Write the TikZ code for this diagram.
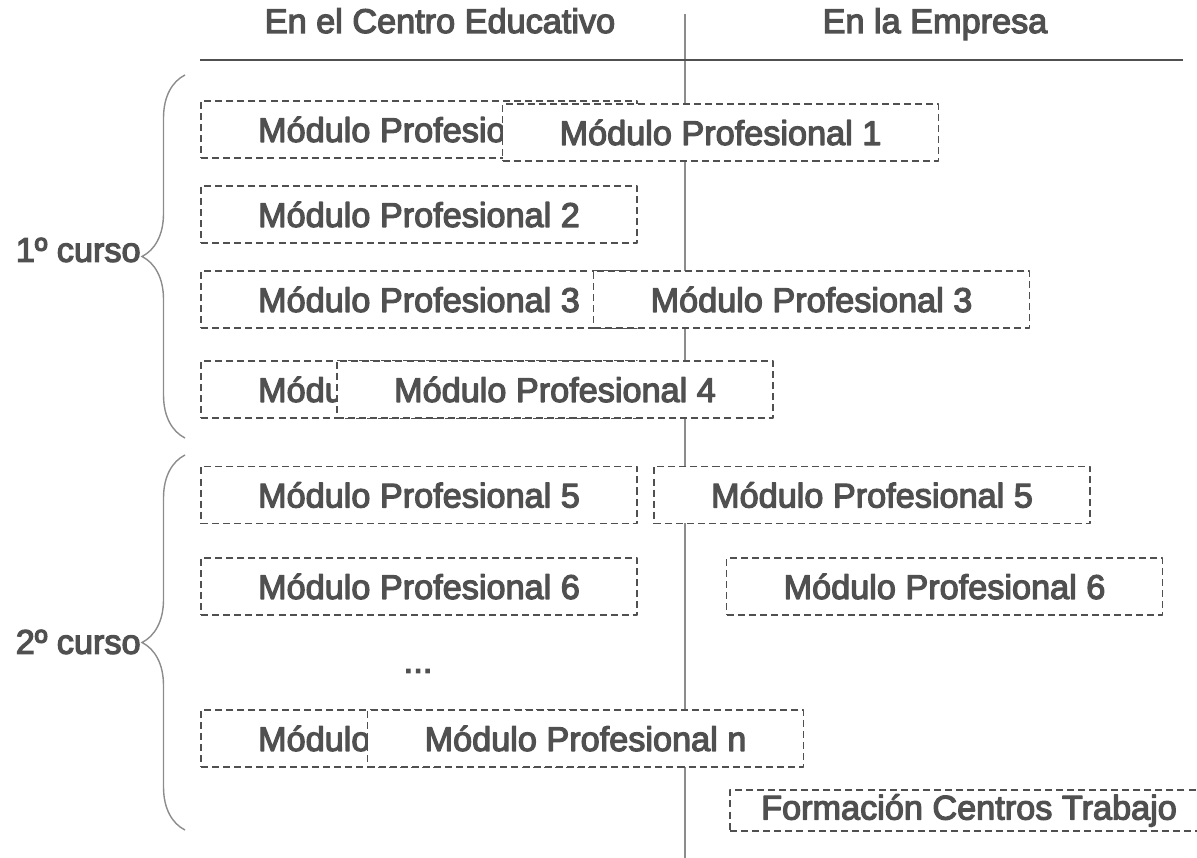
\documentclass[tikz,border=0pt]{standalone}
\usepackage{fontspec}
\setmainfont{Liberation Sans}
\usetikzlibrary{decorations.pathreplacing}
\definecolor{txtgray}{HTML}{505050}
\definecolor{linegray}{HTML}{8C8C8C}
\newcommand\trazo[1]{\special{pdf:literal direct 2 Tr 0.7 w}#1\special{pdf:literal direct 0 Tr}}

\begin{document}
\begin{tikzpicture}[x=0.02cm,y=-0.02cm,font=\fontsize{19.5}{23}\selectfont,text=txtgray,
        modulo/.style={draw=txtgray,dash pattern=on 4pt off 2.3pt,line width=0.95pt,line join=round,fill=white,
                       minimum width=8.72cm,minimum height=1.14cm,inner sep=0pt},
        llave/.style={draw=linegray,line width=0.8pt,decorate,decoration={brace,amplitude=0.86cm}}]
        \useasboundingbox (0,0) rectangle (1197,858);
        \node[anchor=base] (centro) at (440,33) {\trazo{En el Centro Educativo}};
        \node[anchor=base] (empresa) at (935,33) {\trazo{En la Empresa}};
        \coordinate (vtop) at (685,14);
        \coordinate (vbot) at (685,858);
        \coordinate (hizq) at (200,60);
        \coordinate (hder) at (1183,60);
        \draw[linegray,line width=0.8pt] (vtop) -- (vbot);
        \draw[txtgray,line width=1.1pt] (hizq) -- (hder);

        \node[modulo] (c1) at (419,129.5) {\trazo{Módulo Profesional 1}};
        \node[modulo] (c2) at (419,214.5) {\trazo{Módulo Profesional 2}};
        \node[modulo] (c3) at (419,299.5) {\trazo{Módulo Profesional 3}};
        \node[modulo] (c4) at (419,389.5) {\trazo{Módulo Profesional 4}};
        \node[modulo] (c5) at (419,495) {\trazo{Módulo Profesional 5}};
        \node[modulo] (c6) at (419,586.5) {\trazo{Módulo Profesional 6}};
        \node (puntos) at (418,671) {\trazo{...}};
        \node[modulo] (cn) at (419,738.5) {\trazo{Módulo Profesional n}};

        \node[modulo] (e1) at (720.5,132.5) {\trazo{Módulo Profesional 1}};
        \node[modulo] (e3) at (811.5,299.5) {\trazo{Módulo Profesional 3}};
        \node[modulo] (e4) at (555,389.5) {\trazo{Módulo Profesional 4}};
        \node[modulo] (e5) at (872,495) {\trazo{Módulo Profesional 5}};
        \node[modulo] (e6) at (944.5,586.5) {\trazo{Módulo Profesional 6}};
        \node[modulo] (en) at (585.5,738.5) {\trazo{Módulo Profesional n}};
        \node[modulo,minimum width=9.56cm,minimum height=0.82cm] (fct) at (969,810.5) {\trazo{Formación Centros Trabajo}};

        \coordinate (l1a) at (185,438);
        \coordinate (l1b) at (185,75);
        \coordinate (l2a) at (185,830);
        \coordinate (l2b) at (185,455);
        \draw[llave] (l1a) -- (l1b);
        \draw[llave] (l2a) -- (l2b);
        \node[anchor=east,inner sep=0pt] (curso1) at (141,250) {\trazo{1º curso}};
        \node[anchor=east,inner sep=0pt] (curso2) at (141,642) {\trazo{2º curso}};
\end{tikzpicture}
\end{document}
